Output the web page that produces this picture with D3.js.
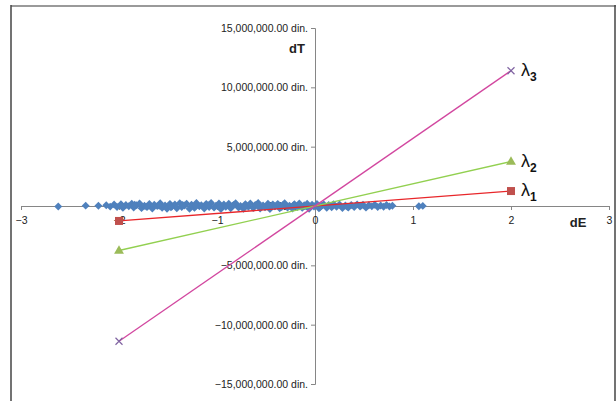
<!DOCTYPE html>
<html>
<head>
<meta charset="utf-8">
<script src="https://cdn.jsdelivr.net/npm/d3@7"></script>
<style>
  body { margin: 0; background: #fff; }
  svg text { font-family: "Liberation Sans", Arial, sans-serif; }
</style>
</head>
<body>
<div id="vizArea"></div>
<script>
var w = 616
var h = 401

// DATA ********************************
// scatter cloud of observations (dE, dT)
var scatterDE = [-2.62,-2.34,-2.21,-2.13,-2.09,-2.05,-2.02,-1.98,-1.96,-1.93,
    -1.9,-1.87,-1.85,-1.82,-1.79,-1.77,-1.74,-1.71,-1.69,-1.66,
    -1.64,-1.61,-1.58,-1.56,-1.53,-1.51,-1.48,-1.46,-1.43,-1.41,
    -1.38,-1.36,-1.33,-1.31,-1.28,-1.26,-1.23,-1.21,-1.18,-1.16,
    -1.13,-1.11,-1.08,-1.06,-1.03,-1.01,-0.98,-0.96,-0.93,-0.91,
    -0.88,-0.86,-0.83,-0.81,-0.78,-0.76,-0.73,-0.71,-0.68,-0.66,
    -0.63,-0.61,-0.58,-0.56,-0.53,-0.51,-0.48,-0.46,-0.43,-0.41,
    -0.38,-0.36,-0.33,-0.31,-0.28,-0.26,-0.23,-0.21,-0.18,-0.16,
    -0.13,-0.11,-0.08,-0.06,-0.03,-0.01,0.02,0.04,0.07,0.09,
    0.12,0.14,0.17,0.19,0.22,0.25,0.28,0.31,0.34,0.37,
    0.4,0.43,0.46,0.49,0.52,0.55,0.58,0.61,0.64,0.67,
    0.7,0.73,0.76,0.79,1.06,1.1,
    -1.97,-1.84,-1.72,-1.59,-1.47,-1.35,-1.22,-1.09,-0.97,-0.84,
    -0.72,-0.59,-0.47,-0.34,-0.22,-0.09,0.05,0.18,0.33,0.47]
// dT in thousands of din.
var scatterDT = [-40,30,20,60,-50,120,-90,150,-160,80,
    -20,190,-130,60,210,-180,20,-60,170,-220,
    100,-10,240,-150,50,-230,180,-40,130,-190,
    230,-90,40,200,-240,110,-160,260,-30,70,
    -210,180,-80,250,-140,30,210,-250,120,-60,
    190,-200,80,240,-120,10,-230,160,-70,220,
    -170,90,260,-210,40,-100,200,-250,140,-30,
    180,-190,70,230,-140,20,-220,150,-80,210,
    -160,60,190,-230,110,-40,170,-200,30,130,
    -150,80,-110,150,-60,120,-170,40,-130,90,
    -80,140,-50,100,-140,60,-30,110,-90,40,
    -60,80,-40,20,-20,10,
    -10,100,-70,20,-110,90,-20,60,-120,30,
    -60,110,0,-90,70,-30,-120,60,-70,30]

// eigen-direction lines, endpoints
var lambdaDE = [-2, 2]
var lambda1DT = [-1260000, 1260000]
var lambda2DT = [-3750000, 3750000]
var lambda3DT = [-11400000, 11400000]

var xTicks = [-3, -2, -1, 0, 1, 2, 3]
var yTicks = [-15000000, -10000000, -5000000, 0, 5000000, 10000000, 15000000]

// SET-UP ********************************
var svg = d3.select("#vizArea").append("svg")
    .attr("width", w)
    .attr("height", h);

// chart frame
svg.append("line").attr("x1", 11).attr("x2", w).attr("y1", 6).attr("y2", 6)
    .attr("stroke", "#9a9a9a").attr("stroke-width", 2);
svg.append("line").attr("x1", 11).attr("x2", 11).attr("y1", 5).attr("y2", h)
    .attr("stroke", "#444").attr("stroke-width", 1.5);
svg.append("line").attr("x1", 615).attr("x2", 615).attr("y1", 5).attr("y2", h)
    .attr("stroke", "#444").attr("stroke-width", 1.5);

var x = d3.scaleLinear().domain([-3, 3]).range([21, 609]);
var y = d3.scaleLinear().domain([-15000000, 15000000]).range([384, 28]);

var fmt = function(v){ return d3.format(",.2f")(v) + " din."; };

// y axis through x=0
var yAxis = svg.append("g")
    .attr("transform", "translate(" + x(0) + ",0)")
    .call(d3.axisLeft(y).tickValues(yTicks).tickSize(4).tickFormat(fmt));
yAxis.select(".domain").attr("stroke", "#868686");
yAxis.selectAll(".tick line").attr("stroke", "#868686");
yAxis.selectAll(".tick text").attr("font-size", 10.5).attr("fill", "#222")
    .attr("x", -7);

// x axis through y=0
var xAxis = svg.append("g")
    .attr("transform", "translate(0," + y(0) + ")")
    .call(d3.axisBottom(x).tickValues(xTicks).tickSize(4).tickSizeOuter(0).tickFormat(d3.format("d")));
xAxis.select(".domain").attr("stroke", "#868686");
xAxis.selectAll(".tick line").attr("stroke", "#868686");
xAxis.selectAll(".tick text").attr("font-size", 10.5).attr("fill", "#222")
    .attr("y", 11);

// axis titles
svg.append("text").attr("x", 305).attr("y", 53).attr("text-anchor", "end")
    .attr("font-size", 13).attr("font-weight", "bold").attr("fill", "#222").text("dT");
svg.append("text").attr("x", 578).attr("y", 227).attr("text-anchor", "middle")
    .attr("font-size", 13).attr("font-weight", "bold").attr("fill", "#222").text("dE");

// scatter
var points = scatterDE.map(function(d, i){ return {dE: d, dT: scatterDT[i] * 1000}; });
svg.append("g").selectAll("path")
    .data(points)
    .enter()
    .append("path")
    .attr("d", d3.symbol().type(d3.symbolDiamond2).size(40))
    .attr("transform", function(d){ return "translate(" + x(d.dE) + "," + y(d.dT) + ")"; })
    .attr("fill", "#4f81bd");

// lines
var series = [
    {name: "1", dT: lambda1DT, line: "#e8262a", mark: "#c0504d", sym: "square"},
    {name: "2", dT: lambda2DT, line: "#92d050", mark: "#9bbb59", sym: "triangle"},
    {name: "3", dT: lambda3DT, line: "#d2479f", mark: "#8064a2", sym: "cross"}
];

var lineGen = d3.line()
    .x(function(d){ return x(d[0]); })
    .y(function(d){ return y(d[1]); });

series.forEach(function(s){
    var pts = lambdaDE.map(function(d, i){ return [d, s.dT[i]]; });
    svg.append("path").datum(pts)
        .attr("d", lineGen)
        .attr("fill", "none")
        .attr("stroke", s.line)
        .attr("stroke-width", 1.3);

    var g = svg.append("g");
    pts.forEach(function(p){
        var px = x(p[0]), py = y(p[1]);
        if (s.sym == "square") {
            g.append("rect").attr("x", px - 4).attr("y", py - 4)
                .attr("width", 8).attr("height", 8).attr("fill", s.mark);
        } else if (s.sym == "triangle") {
            g.append("path")
                .attr("d", d3.symbol().type(d3.symbolTriangle).size(42))
                .attr("transform", "translate(" + px + "," + (py + 0.5) + ")")
                .attr("fill", s.mark);
        } else {
            g.append("path")
                .attr("d", "M-3.5,-3.5L3.5,3.5M-3.5,3.5L3.5,-3.5")
                .attr("transform", "translate(" + px + "," + py + ")")
                .attr("stroke", s.mark).attr("stroke-width", 1.2);
        }
    });

    // lambda label at upper end
    var lbl = svg.append("text")
        .attr("x", x(2) + 10)
        .attr("y", y(s.dT[1]) + 5)
        .attr("font-size", 18)
        .attr("fill", "#111");
    lbl.append("tspan").text("\u03bb");
    lbl.append("tspan").attr("dy", 5).attr("font-size", 12)
        .attr("font-weight", "bold").text(s.name);
});
</script>
</body>
</html>
